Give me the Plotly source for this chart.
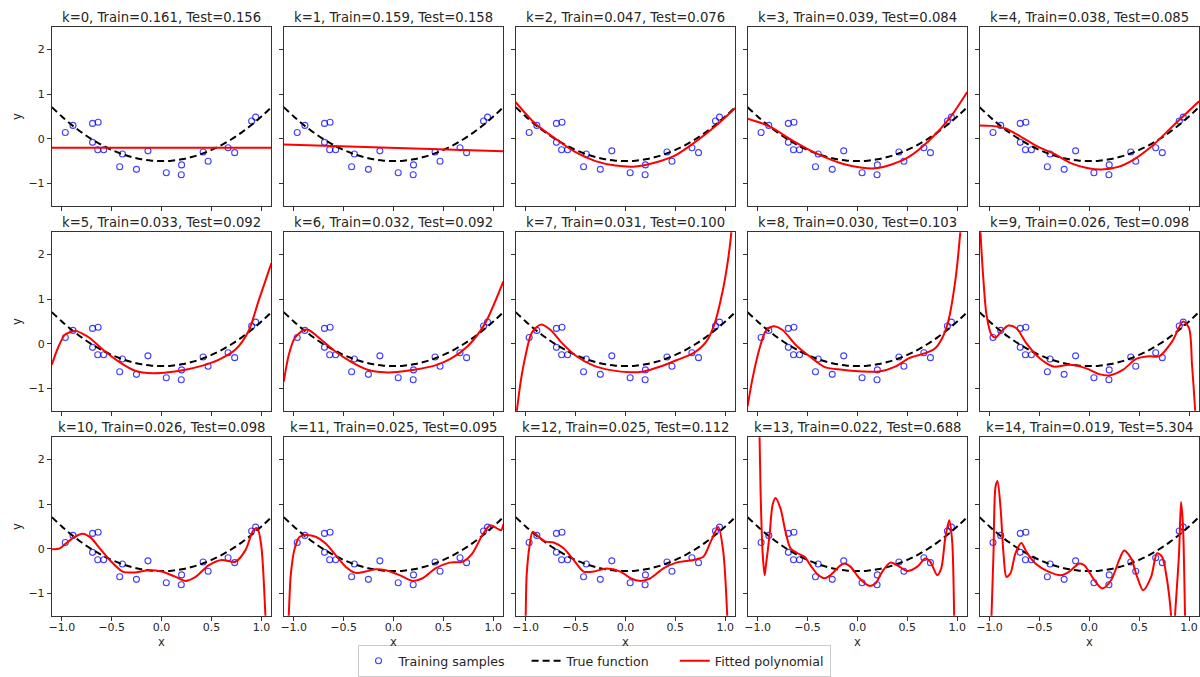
#%% Data -----------------------------------------------------------------------------------------

import plotly.graph_objects as go
from plotly.subplots import make_subplots

# Training samples (same in every panel)
sample_x = [-0.965, -0.888, -0.692, -0.636, -0.692, -0.640, -0.580, -0.420, -0.393, -0.252,
            -0.137, 0.047, 0.200, 0.197, 0.416, 0.466, 0.666, 0.732, 0.902, 0.942]
sample_y = [0.14, 0.30, 0.345, 0.37, -0.08, -0.245, -0.245, -0.625, -0.34, -0.685,
            -0.27, -0.76, -0.585, -0.805, -0.295, -0.505, -0.20, -0.31, 0.40, 0.485]

# True function
true_x = [-1.1, -1.0, -0.9, -0.8, -0.7, -0.6, -0.5, -0.4, -0.3, -0.2, -0.1, 0.0,
          0.1, 0.2, 0.3, 0.4, 0.5, 0.6, 0.7, 0.8, 0.9, 1.0, 1.1]
true_y = [0.71, 0.50, 0.31, 0.14, -0.01, -0.14, -0.25, -0.34, -0.41, -0.46, -0.49, -0.50,
          -0.49, -0.46, -0.41, -0.34, -0.25, -0.14, -0.01, 0.14, 0.31, 0.50, 0.71]

# Errors shown in the titles
degrees = list(range(15))
train_err = [0.161, 0.159, 0.047, 0.039, 0.038, 0.033, 0.032, 0.031, 0.030, 0.026,
             0.026, 0.025, 0.025, 0.022, 0.019]
test_err = [0.156, 0.158, 0.076, 0.084, 0.085, 0.092, 0.092, 0.100, 0.103, 0.098,
            0.098, 0.095, 0.112, 0.688, 5.304]

# Fitted polynomials, traced point by point
fit_k0_x = [-1.1, 1.1]
fit_k0_y = [-0.20, -0.20]

fit_k1_x = [-1.1, 1.1]
fit_k1_y = [-0.13, -0.28]

fit_k2_x = [-1.1, -0.9, -0.7, -0.5, -0.3, -0.1, 0.1, 0.3, 0.5, 0.7, 0.9, 1.1]
fit_k2_y = [0.82, 0.33, 0.0, -0.30, -0.50, -0.60, -0.62, -0.53, -0.37, -0.07, 0.28, 0.69]

fit_k3_x = [-1.1, -0.88, -0.65, -0.4, -0.15, 0.05, 0.18, 0.35, 0.52, 0.72, 0.92, 1.1]
fit_k3_y = [0.45, 0.28, -0.04, -0.34, -0.56, -0.65, -0.66, -0.57, -0.40, -0.04, 0.45, 1.05]

fit_k4_x = [-1.1, -0.98, -0.84, -0.68, -0.51, -0.35, -0.18, -0.01, 0.12, 0.29, 0.45,
            0.62, 0.78, 0.92, 1.1]
fit_k4_y = [0.30, 0.29, 0.23, 0.04, -0.18, -0.34, -0.55, -0.66, -0.69, -0.63, -0.46,
            -0.18, 0.16, 0.46, 0.84]

fit_k5_x = [-1.1, -1.04, -0.97, -0.89, -0.86, -0.72, -0.59, -0.43, -0.26, -0.09, 0.07,
            0.24, 0.41, 0.57, 0.74, 0.87, 0.97, 1.1]
fit_k5_y = [-0.47, -0.10, 0.20, 0.28, 0.29, 0.13, -0.13, -0.40, -0.61, -0.66, -0.64,
            -0.58, -0.49, -0.36, -0.13, 0.28, 0.95, 1.81]

fit_k6_x = [-1.1, -1.05, -0.99, -0.90, -0.85, -0.76, -0.59, -0.42, -0.26, -0.09, 0.08,
            0.24, 0.41, 0.57, 0.74, 0.91, 1.1]
fit_k6_y = [-0.85, -0.25, 0.13, 0.31, 0.31, 0.16, -0.16, -0.41, -0.58, -0.64, -0.62,
            -0.57, -0.49, -0.34, -0.06, 0.43, 1.40]

fit_k7_x = [-1.1, -1.087, -1.05, -1.0, -0.94, -0.85, -0.75, -0.65, -0.49, -0.32, -0.15,
            0.05, 0.18, 0.35, 0.51, 0.68, 0.81, 0.89, 0.98, 1.03, 1.06, 1.07]
fit_k7_y = [-1.72, -1.48, -0.85, -0.25, 0.24, 0.43, 0.31, 0.05, -0.28, -0.49, -0.59,
            -0.64, -0.62, -0.51, -0.37, -0.21, 0.05, 0.43, 1.25, 1.92, 2.48, 2.9]

fit_k8_x = [-1.1, -1.05, -0.98, -0.92, -0.85, -0.75, -0.62, -0.48, -0.32, -0.15, 0.05,
            0.22, 0.38, 0.52, 0.68, 0.78, 0.85, 0.91, 0.98, 1.03, 1.045]
fit_k8_y = [-1.40, -0.77, -0.10, 0.28, 0.39, 0.31, -0.02, -0.28, -0.53, -0.58, -0.62,
            -0.62, -0.51, -0.32, -0.21, -0.10, 0.13, 0.50, 1.40, 2.48, 3.0]

fit_k9_x = [-1.1, -1.09, -1.06, -1.03, -0.98, -0.94, -0.88, -0.81, -0.73, -0.63, -0.50,
            -0.36, -0.20, -0.03, 0.10, 0.20, 0.34, 0.47, 0.60, 0.70, 0.83, 0.94, 1.0,
            1.03, 1.06, 1.07]
fit_k9_y = [3.0, 2.48, 1.40, 0.65, 0.20, 0.14, 0.28, 0.41, 0.35, 0.01, -0.32,
            -0.51, -0.47, -0.55, -0.68, -0.71, -0.58, -0.34, -0.28, -0.28, 0.05, 0.50, 0.35,
            -0.47, -1.44, -1.9]

fit_k10_x = [-1.1, -1.02, -0.96, -0.87, -0.79, -0.71, -0.62, -0.52, -0.39, -0.26, -0.13,
             0.0, 0.14, 0.24, 0.34, 0.47, 0.60, 0.74, 0.84, 0.92, 0.96, 1.0, 1.04, 1.05]
fit_k10_y = [-0.01, 0.01, 0.12, 0.27, 0.34, 0.25, 0.01, -0.25, -0.51, -0.53, -0.48,
             -0.51, -0.63, -0.72, -0.63, -0.37, -0.25, -0.29, -0.03, 0.42, 0.46, 0.04, -1.49, -1.9]

fit_k11_x = [-1.06, -1.05, -1.03, -0.99, -0.94, -0.88, -0.78, -0.68, -0.58, -0.48, -0.38,
             -0.28, -0.18, -0.08, 0.06, 0.19, 0.29, 0.42, 0.56, 0.69, 0.79, 0.89, 0.97,
             1.05, 1.08, 1.1]
fit_k11_y = [-1.9, -1.5, -0.59, 0.01, 0.27, 0.31, 0.27, 0.12, -0.14, -0.40, -0.54,
             -0.51, -0.46, -0.48, -0.59, -0.72, -0.66, -0.44, -0.31, -0.29, -0.10, 0.31, 0.53,
             0.44, 0.42, 0.55]

fit_k12_x = [-1.005, -1.0, -0.99, -0.96, -0.93, -0.87, -0.80, -0.72, -0.62, -0.52, -0.42,
             -0.32, -0.19, -0.05, 0.05, 0.15, 0.25, 0.38, 0.51, 0.68, 0.78, 0.86, 0.93,
             0.98, 1.02, 1.025]
fit_k12_y = [-1.9, -1.52, -0.59, 0.08, 0.38, 0.27, 0.16, 0.14, 0.01, -0.25, -0.51,
             -0.51, -0.44, -0.51, -0.66, -0.72, -0.66, -0.44, -0.31, -0.25, -0.18, 0.19, 0.49,
             -0.07, -1.52, -1.9]

fit_k13_x = [-0.99, -0.98, -0.97, -0.95, -0.93, -0.92, -0.88, -0.85, -0.82, -0.77, -0.72,
             -0.67, -0.60, -0.53, -0.47, -0.40, -0.33, -0.27, -0.18, -0.13, -0.07, 0.02,
             0.12, 0.18, 0.25, 0.33, 0.40, 0.50, 0.60, 0.68, 0.73, 0.80, 0.84, 0.88, 0.92,
             0.95, 0.97, 0.975]
fit_k13_y = [3.0, 2.47, 1.28, -0.07, -0.59, -0.44, 0.31, 0.98, 1.14, 0.90, 0.38,
             0.01, -0.10, -0.18, -0.37, -0.57, -0.66, -0.59, -0.39, -0.33, -0.40, -0.66,
             -0.83, -0.78, -0.51, -0.31, -0.37, -0.50, -0.40, -0.22, -0.29, -0.59, -0.44, 0.23, 0.64,
             0.16, -1.52, -1.9]

fit_k14_x = [-0.985, -0.98, -0.96, -0.94, -0.92, -0.89, -0.86, -0.83, -0.79, -0.74, -0.68,
             -0.63, -0.54, -0.41, -0.28, -0.20, -0.10, -0.05, 0.05, 0.13, 0.22, 0.30, 0.35,
             0.42, 0.48, 0.54, 0.62, 0.68, 0.73, 0.78, 0.82, 0.83, 0.85, 0.86, 0.90, 0.92,
             0.94, 0.96, 0.965]
fit_k14_y = [-1.9, -1.49, -0.10, 1.39, 1.52, 0.94, -0.10, -0.63, -0.55, -0.10, 0.13,
             -0.07, -0.33, -0.51, -0.59, -0.51, -0.33, -0.37, -0.70, -0.89, -0.70, -0.25, -0.04,
             -0.22, -0.63, -0.93, -0.63, -0.10, -0.18, -0.70, -1.49, -1.9, -1.9, -1.49, -0.10, 1.05,
             0.49, -1.49, -1.9]

fits = [(fit_k0_x, fit_k0_y), (fit_k1_x, fit_k1_y), (fit_k2_x, fit_k2_y), (fit_k3_x, fit_k3_y),
        (fit_k4_x, fit_k4_y), (fit_k5_x, fit_k5_y), (fit_k6_x, fit_k6_y), (fit_k7_x, fit_k7_y),
        (fit_k8_x, fit_k8_y), (fit_k9_x, fit_k9_y), (fit_k10_x, fit_k10_y), (fit_k11_x, fit_k11_y),
        (fit_k12_x, fit_k12_y), (fit_k13_x, fit_k13_y), (fit_k14_x, fit_k14_y)]

#%% Figure ---------------------------------------------------------------------------------------

W, H = 1200, 677
FONT = "DejaVu Sans"
TXT = "#262626"
NB = "\u00a0"  # padding so the legend entries get matplotlib-like spacing

fig = make_subplots(rows=3, cols=5)

# panel geometry in pixels
col_left = [49 + c * 232.7 for c in range(5)]
panel_w = 220.3
row_top = [27.3 + r * 205.0 for r in range(3)]
panel_h = 178.4

for k in degrees:
    r, c = k // 5 + 1, k % 5 + 1
    fx, fy = fits[k]
    first = k == 0

    fig.add_trace(go.Scatter(
        x=sample_x, y=sample_y, mode="markers", name="Training samples" + NB * 4,
        marker=dict(symbol="circle-open", size=6, color="rgba(0,0,255,0.75)", line=dict(width=1.1)),
        showlegend=first, legendrank=1,
    ), row=r, col=c)
    fig.add_trace(go.Scatter(
        x=true_x, y=true_y, mode="lines", name="True function" + NB * 5,
        line=dict(color="black", width=2, dash="7px,4px", shape="spline"),
        showlegend=first, legendrank=2,
    ), row=r, col=c)
    fig.add_trace(go.Scatter(
        x=fx, y=fy, mode="lines", name="Fitted polynomial",
        line=dict(color="red", width=2, shape="spline", smoothing=0.8),
        showlegend=first, legendrank=3,
    ), row=r, col=c)

    x0 = col_left[c - 1] / W
    x1 = min((col_left[c - 1] + panel_w) / W, 1.0)
    xc = (x0 + (col_left[c - 1] + panel_w) / W) / 2
    y1 = 1 - row_top[r - 1] / H
    y0 = 1 - (row_top[r - 1] + panel_h) / H

    fig.update_xaxes(
        domain=[x0, x1], range=[-1.1, 1.1],
        tickvals=[-1, -0.5, 0, 0.5, 1],
        ticktext=["\u22121.0", "\u22120.5", "0.0", "0.5", "1.0"],
        showticklabels=(r == 3), ticklabelstandoff=-3,
        row=r, col=c)
    fig.update_yaxes(
        domain=[y0, y1], range=[-1.5, 2.5],
        tickvals=[-1, 0, 1, 2],
        ticktext=["\u22121", "0", "1", "2"],
        showticklabels=(c == 1),
        title=dict(text="y" if c == 1 else "", standoff=4, font=dict(size=11.5, color=TXT)),
        row=r, col=c)

    fig.add_annotation(
        text=f"k={k}, Train={train_err[k]:.3f}, Test={test_err[k]:.3f}",
        xref="paper", yref="paper", x=xc, y=y1,
        xanchor="center", yanchor="bottom", yshift=0, showarrow=False,
        font=dict(family=FONT, size=13.2, color=TXT))

    # x axis label under the bottom row
    if r == 3:
        fig.add_annotation(
            text="x", xref="paper", yref="paper", x=xc, y=1 - 642 / H,
            xanchor="center", yanchor="middle", showarrow=False,
            font=dict(family=FONT, size=11.5, color=TXT))

fig.update_xaxes(showline=True, mirror=True, linecolor="#333333", linewidth=1,
                 ticks="outside", ticklen=4, tickcolor="#333333", showgrid=False, zeroline=False,
                 tickfont=dict(size=11, color=TXT))
fig.update_yaxes(showline=True, mirror=True, linecolor="#333333", linewidth=1,
                 ticks="outside", ticklen=4, tickcolor="#333333", showgrid=False, zeroline=False,
                 tickfont=dict(size=11, color=TXT))

fig.update_layout(
    width=W, height=H,
    margin=dict(l=0, r=0, t=0, b=0),
    plot_bgcolor="white", paper_bgcolor="white",
    font=dict(family=FONT, color=TXT),
    legend=dict(orientation="h", x=593 / W, xanchor="center", y=0, yanchor="bottom",
                bordercolor="#cccccc", borderwidth=1, bgcolor="white",
                font=dict(size=12.6, color=TXT), itemwidth=30),
)

# the page body has a default 8px margin; drop it so the figure sits at the window corner
fig.write_html("out.html", config={"displayModeBar": False},
               post_script="document.body.style.margin='0';")
